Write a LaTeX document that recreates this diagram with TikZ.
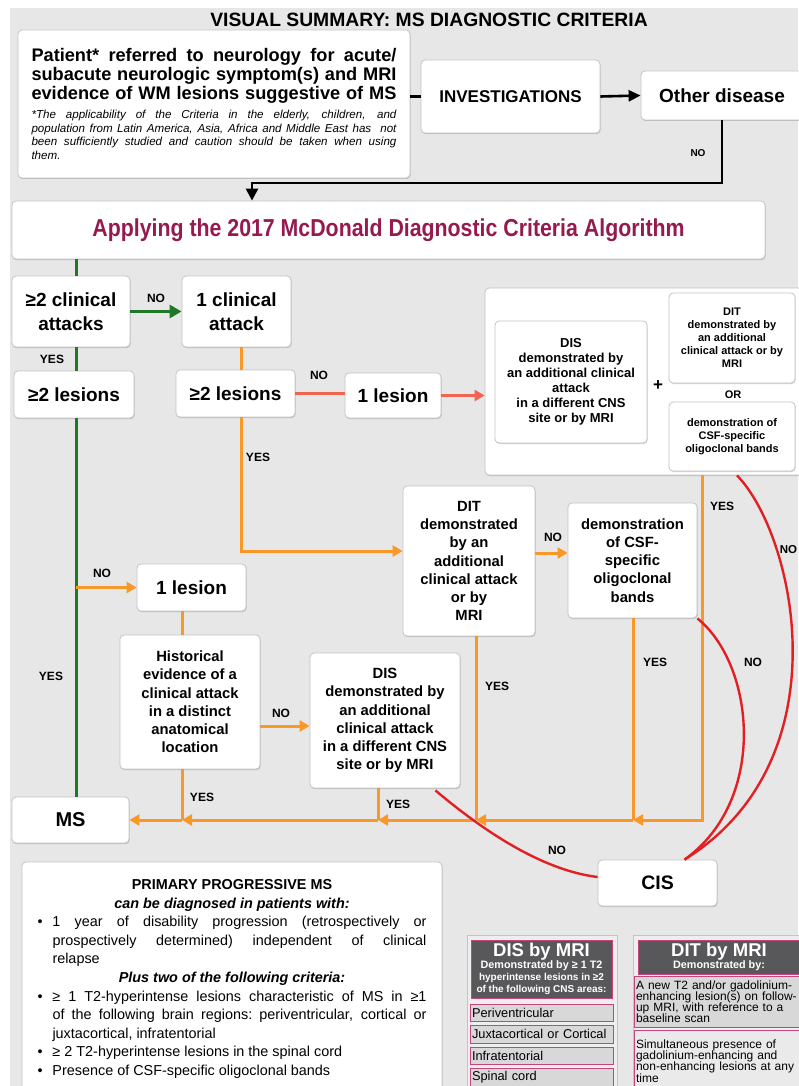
\documentclass[tikz,border=0pt]{standalone}
\usepackage{fontspec}
\setmainfont{Liberation Sans}
\newfontfamily\condfont[FakeStretch=0.87]{Liberation Sans}
\usetikzlibrary{arrows.meta,calc,shadows}

\definecolor{pagebg}{RGB}{231,231,232}
\definecolor{boxline}{RGB}{196,196,198}
\definecolor{msorange}{RGB}{248,152,40}
\definecolor{msgreen}{RGB}{34,118,40}
\definecolor{mssalmon}{RGB}{240,100,80}
\definecolor{msred}{RGB}{226,32,36}
\definecolor{msmaroon}{RGB}{150,26,80}
\definecolor{hdrgrey}{RGB}{88,88,90}
\definecolor{pinkline}{RGB}{196,70,125}
\definecolor{cellgrey}{RGB}{216,216,217}
\definecolor{cellpale}{RGB}{234,234,235}
\definecolor{tblline}{RGB}{214,186,198}
\definecolor{tblfill}{RGB}{238,238,239}

% one justified line of a text block: every interword space stretches equally
\newcommand\jl[1]{\hbox to 365pt{\spaceskip=.278em plus 1fil\xspaceskip=\spaceskip #1}\par}
\newcommand\ppl[1]{\hbox to 389pt{\spaceskip=.278em plus 1fil\xspaceskip=\spaceskip #1}\par}

\begin{document}
\begin{tikzpicture}[x=1pt,y=-1pt,
  box/.style={draw=boxline, fill=white, line width=0.8pt, rounded corners=4pt,
    inner sep=0pt, align=center,
    drop shadow={shadow xshift=0.6pt, shadow yshift=-1pt, opacity=0.18, fill=black}},
  big/.style={font=\fontsize{19}{23.5}\selectfont\bfseries},
  mid/.style={font=\fontsize{14.8}{18.2}\selectfont\bfseries},
  lbl/.style={font=\fontsize{12}{12}\selectfont\bfseries, inner sep=0pt},
  oline/.style={draw=msorange, line width=3pt},
  oarrow/.style={oline, -{Triangle[length=10pt,width=11pt]}},
  gline/.style={draw=msgreen, line width=3pt},
  sline/.style={draw=mssalmon, line width=2.8pt},
  redline/.style={draw=msred, line width=2.4pt},
  blk/.style={draw=black, line width=2.6pt},
  hdr/.style={fill=hdrgrey, draw=pinkline, line width=0.8pt, text=white,
    align=center, inner sep=0pt, font=\bfseries},
  cell/.style={draw=pinkline, fill=cellgrey, line width=0.8pt, inner sep=0pt,
    align=left},
  frame/.style={draw=tblline, fill=tblfill, line width=0.8pt, inner sep=0pt}
]
\useasboundingbox (0,0) rectangle (798,1086);
\fill[white] (0,0) rectangle (798,1086);
\fill[pagebg] (10,8) rectangle (798,1086);

\node[font=\fontsize{19.3}{22}\selectfont\bfseries, inner sep=0pt] (title) at (429,19.5)
  {VISUAL SUMMARY: MS DIAGNOSTIC CRITERIA};

% ---------- entry ----------
\node[box, align=left, minimum width=392, minimum height=148, text width=365] (patient) at (214,104) {%
\fontsize{18.2}{19}\selectfont\bfseries
\jl{Patient* referred to neurology for acute/}
\jl{subacute neurologic symptom(s) and MRI}
\jl{evidence of WM lesions suggestive of MS}
\vspace{5pt}
\fontsize{11.6}{13.7}\selectfont\mdseries\itshape
\jl{*The applicability of the Criteria in the elderly, children, and}
\jl{population from Latin America, Asia, Africa and Middle East has\ \ not}
\jl{been sufficiently studied and caution should be taken when using}
\jl{them.\hfill}};

\node[box, minimum width=179, minimum height=73, font=\fontsize{17}{20}\selectfont\bfseries]
  (inv) at (510.5,96.5) {INVESTIGATIONS};
\node[box, minimum width=162, minimum height=49, font=\fontsize{19}{22}\selectfont\bfseries]
  (other) at (722,95.5) {Other disease};

\node[box, minimum width=753, minimum height=58, text=msmaroon,
  font=\condfont\fontsize{24.5}{28}\selectfont\bfseries]
  (apply) at (388.5,230) {Applying the 2017 McDonald Diagnostic Criteria Algorithm};

% ---------- algorithm ----------
\node[box, big, minimum width=118, minimum height=71] (crit2) at (71,311.5) {≥2 clinical\\attacks};
\node[box, big, minimum width=109, minimum height=71] (crit1) at (236.5,311.5) {1 clinical\\attack};
\node[box, big, minimum width=120, minimum height=47] (les2a) at (74,394.5) {≥2 lesions};
\node[box, big, minimum width=119, minimum height=47] (les2b) at (235.5,393.5) {≥2 lesions};
\node[box, big, minimum width=96, minimum height=45] (les1a) at (393,395.5) {1 lesion};

\node[box, minimum width=318, minimum height=187] (container) at (644,381.5) {};
\node[box, minimum width=152, minimum height=122, font=\fontsize{13}{15}\selectfont\bfseries]
  (disin) at (571,382) {DIS\\demonstrated by\\an additional clinical\\attack\\in a different CNS\\site or by MRI};
\node[box, minimum width=126, minimum height=90, font=\fontsize{11}{13}\selectfont\bfseries]
  (ditin) at (732,338) {DIT\\demonstrated by\\an additional\\clinical attack or by\\MRI};
\node[box, minimum width=126, minimum height=69, font=\fontsize{11}{13}\selectfont\bfseries]
  (csfin) at (732,436.5) {demonstration of\\CSF-specific\\oligoclonal bands};
\node[font=\fontsize{17}{17}\selectfont\bfseries, inner sep=0pt] (plus) at (658,386) {+};
\node[font=\fontsize{11}{11}\selectfont\bfseries, inner sep=0pt] (ortext) at (733,395) {OR};

\node[box, mid, minimum width=132, minimum height=150] (ditmid) at (469,561)
  {DIT\\demonstrated\\by an\\additional\\clinical attack\\or by\\MRI};
\node[box, mid, minimum width=129, minimum height=115] (csfmid) at (632.5,560.5)
  {demonstration\\of CSF-\\specific\\oligoclonal\\bands};
\node[box, big, minimum width=109, minimum height=47] (les1b) at (191.5,587.5) {1 lesion};
\node[box, mid, minimum width=140, minimum height=134] (hist) at (190,702)
  {Historical\\evidence of a\\clinical attack\\in a distinct\\anatomical\\location};
\node[box, mid, minimum width=150, minimum height=135] (dislow) at (385,720.5)
  {DIS\\demonstrated by\\an additional\\clinical attack\\in a different CNS\\site or by MRI};
\node[box, font=\fontsize{20}{22}\selectfont\bfseries, minimum width=117, minimum height=46]
  (ms) at (70.5,820) {MS};
\node[box, font=\fontsize{19.5}{22}\selectfont\bfseries, minimum width=119, minimum height=46]
  (cis) at (657.5,883) {CIS};

% ---------- connectors ----------
\draw[blk] (patient.east |- inv.west) -- (inv.west);
\draw[blk, -{Triangle[length=12pt,width=11pt]}] (inv.east) -- (other.west);
\coordinate (nobend) at (252,183);
\draw[blk, -{Triangle[length=12pt,width=12pt]}] (other.south) |- (nobend) -- (nobend |- apply.north);

\coordinate (gx) at (76,0);
\draw[gline] (apply.south -| gx) -- (crit2.north -| gx);
\draw[gline, -{Triangle[length=12pt,width=13pt]}] (crit2.east) -- (crit1.west);
\draw[gline] (crit2.south -| gx) -- (les2a.north -| gx);
\draw[gline] (les2a.south -| gx) -- (ms.north -| gx);
\draw[oarrow] (gx |- les1b.west) -- (les1b.west);

\coordinate (ox) at (241,551);
\coordinate (oy2) at (0,553);
\coordinate (oy3) at (0,726);
\draw[oline] (crit1.south -| ox) -- (les2b.north -| ox);
\draw[oarrow] (les2b.south -| ox) -- (ox) -- (ox -| ditmid.west);
\draw[oarrow] (ditmid.east |- oy2) -- (csfmid.west |- oy2);
\draw[sline] (les2b.east) -- (les2b.east -| les1a.west);
\draw[sline, -{Triangle[length=10pt,width=11pt]}] (les1a.east) -- (les1a.east -| container.west);

\draw[oline] (les1b.south -| 182,0) -- (hist.north -| 182,0);
\draw[oarrow] (hist.east |- oy3) -- (dislow.west |- oy3);

\coordinate (jA) at (702,820);
\coordinate (jB) at (633,820);
\coordinate (jC) at (476,820);
\coordinate (jD) at (378,820);
\coordinate (jE) at (182,820);
\draw[oarrow] (container.south -| jA) -- (jA) -- (jB);
\draw[oline] (csfmid.south -| jB) -- (jB);
\draw[oline] (ditmid.south -| jC) -- (jC);
\draw[oline] (dislow.south -| jD) -- (jD);
\draw[oline] (hist.south -| jE) -- (jE);
\draw[oarrow] (jB) -- (jC);
\draw[oarrow] (jC) -- (jD);
\draw[oarrow] (jD) -- (jE);
\draw[oarrow] (jE) -- (jE -| ms.east);

\draw[redline] ($(dislow.south east)+(-25,2)$) .. controls (480,828) and (540,870) .. ($(cis.west)+(0,-6)$);
\draw[redline] (csfmid.south east) .. controls (755,665) and (768,800) .. ($(cis.north)+(27,0)$);
\draw[redline] ($(container.south)+(93,0)$) .. controls (795,535) and (845,760) .. ($(cis.north)+(27,0)$);

% ---------- branch labels ----------
\node[lbl, font=\fontsize{10}{10}\selectfont\bfseries] (l1) at (698,153) {NO};
\node[lbl] (l2) at (156,298) {NO};
\node[lbl] (l3) at (52,359) {YES};
\node[lbl] (l4) at (319,375) {NO};
\node[lbl] (l5) at (258,457) {YES};
\node[lbl] (l6) at (102,573) {NO};
\node[lbl] (l7) at (51,676) {YES};
\node[lbl] (l8) at (553,537) {NO};
\node[lbl] (l9) at (722,506) {YES};
\node[lbl, font=\fontsize{11.5}{12}\selectfont\bfseries] (l10) at (788.5,550) {NO};
\node[lbl] (l11) at (655,662) {YES};
\node[lbl] (l12) at (753,662) {NO};
\node[lbl] (l13) at (497,686) {YES};
\node[lbl] (l14) at (281,713) {NO};
\node[lbl] (l15) at (202,797) {YES};
\node[lbl] (l16) at (398,804) {YES};
\node[lbl] (l17) at (557,850) {NO};

% ---------- primary progressive ----------
\node[box, align=left, minimum width=420, minimum height=234, text width=389,
  font=\fontsize{14.4}{18.6}\selectfont] (ppms) at (232,979) {%
\ppl{\hfill\bfseries PRIMARY PROGRESSIVE MS\hfill}
\ppl{\hfill\bfseries\itshape can be diagnosed in patients with:\hfill}
\ppl{\hbox to 15pt{•\hss}\hbox to 374pt{1 year of disability progression (retrospectively or}}
\ppl{\hskip15pt\hbox to 374pt{prospectively determined) independent of clinical}}
\ppl{\hskip15pt relapse\hfill}
\ppl{\hfill\bfseries\itshape Plus two of the following criteria:\hfill}
\ppl{\hbox to 15pt{•\hss}\hbox to 374pt{≥ 1 T2-hyperintense lesions characteristic of MS in ≥1}}
\ppl{\hskip15pt\hbox to 374pt{of the following brain regions: periventricular, cortical or}}
\ppl{\hskip15pt juxtacortical, infratentorial\hfill}
\ppl{\hbox to 15pt{•\hss}≥ 2 T2-hyperintense lesions in the spinal cord\hfill}
\ppl{\hbox to 15pt{•\hss}Presence of CSF-specific oligoclonal bands\hfill}};

% ---------- DIS by MRI ----------
\node[frame, minimum width=150, minimum height=165] (disframe) at (542,1017.5) {};
\node[hdr, minimum width=141, minimum height=58] (dishead) at (541.5,969)
  {\fontsize{18.5}{20}\selectfont DIS by MRI\\
   \fontsize{10.8}{12}\selectfont Demonstrated by ≥ 1 T2\\hyperintense lesions in ≥2\\of the following CNS areas:};
\node[cell, minimum width=143, minimum height=17, text width=139,
  font=\fontsize{12.8}{14}\selectfont] (r1) at (541.5,1012.5) {Periventricular};
\node[cell, minimum width=143, minimum height=18, text width=139,
  font=\fontsize{12.8}{14}\selectfont] (r2) at (541.5,1034) {Juxtacortical or Cortical};
\node[cell, minimum width=143, minimum height=17, text width=139,
  font=\fontsize{12.8}{14}\selectfont] (r3) at (541.5,1055.5) {Infratentorial};
\node[cell, minimum width=143, minimum height=18, text width=139,
  font=\fontsize{12.8}{14}\selectfont] (r4) at (541.5,1077) {Spinal cord};

% ---------- DIT by MRI ----------
\node[frame, minimum width=172, minimum height=165] (ditframe) at (719,1017.5) {};
\node[hdr, minimum width=162, minimum height=34] (dithead) at (719,957)
  {\fontsize{18.5}{20}\selectfont DIT by MRI\\
   \fontsize{10.8}{12}\selectfont Demonstrated by:};
\node[cell, minimum width=166, minimum height=51, text width=162,
  font=\fontsize{12}{11.2}\selectfont] (d1) at (717,1001.5)
  {A new T2 and/or gadolinium-\\enhancing lesion(s) on follow-\\up MRI, with reference to a\\baseline scan};
\node[cell, fill=cellpale, minimum width=166, minimum height=62, text width=162,
  font=\fontsize{12}{11.2}\selectfont] (d2) at (717,1061)
  {Simultaneous presence of\\gadolinium-enhancing and\\non-enhancing lesions at any\\time};
\end{tikzpicture}
\end{document}
